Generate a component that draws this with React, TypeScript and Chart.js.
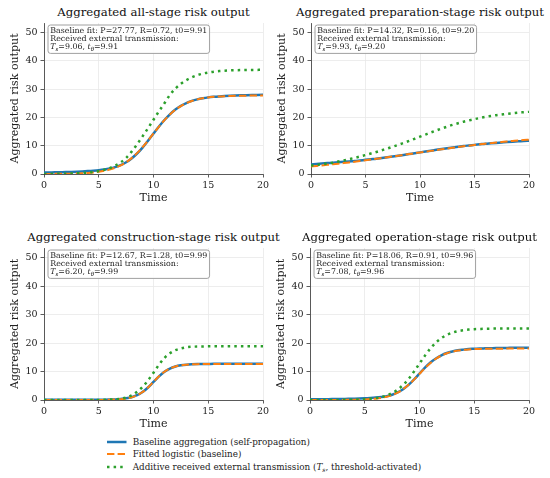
import { useEffect, useRef } from "react";
import { Chart, registerables } from "chart.js";

Chart.register(...registerables);

const FONT = '"DejaVu Serif", serif';

// time grid shared by all four panels
const times = [
  0, 0.5, 1, 1.5, 2, 2.5, 3, 3.5, 4, 4.5, 5, 5.5, 6, 6.5, 7, 7.5, 8, 8.5, 9, 9.5, 10,
  10.5, 11, 11.5, 12, 12.5, 13, 13.5, 14, 14.5, 15, 15.5, 16, 16.5, 17, 17.5, 18, 18.5, 19, 19.5, 20,
];
const xTicks = [0, 5, 10, 15, 20];
const yTicks = [0, 10, 20, 30, 40, 50];

// all-stage
const allBaseline = [
  0.5, 0.54, 0.58, 0.63, 0.68, 0.75, 0.83, 0.92, 1.03, 1.17, 1.35, 1.6, 1.95, 2.45, 3.15, 4.15, 5.5, 7.25, 9.35, 11.75, 14.3,
  16.8, 19.1, 21.1, 22.8, 24.1, 25.1, 25.85, 26.4, 26.8, 27.1, 27.3, 27.45, 27.57, 27.67, 27.75, 27.82, 27.88, 27.93, 27.97, 28.0,
];
const allFitted = [
  0.02, 0.03, 0.05, 0.07, 0.09, 0.13, 0.19, 0.27, 0.39, 0.55, 0.79, 1.12, 1.57, 2.2, 3.04, 4.16, 5.61, 7.39, 9.49, 11.85, 14.34,
  16.79, 19.07, 21.07, 22.73, 24.04, 25.06, 25.82, 26.38, 26.79, 27.08, 27.28, 27.43, 27.53, 27.6, 27.65, 27.69, 27.71, 27.73, 27.74, 27.75,
];
const allExternal = [
  0.03, 0.04, 0.06, 0.09, 0.12, 0.18, 0.25, 0.36, 0.52, 0.74, 1.05, 1.5, 2.1, 2.95, 4.1, 5.7, 7.9, 10.5, 13.3, 16.2, 19.2,
  22.2, 25.0, 28.0, 30.2, 31.9, 33.2, 34.2, 34.95, 35.5, 35.9, 36.2, 36.4, 36.55, 36.65, 36.7, 36.75, 36.78, 36.8, 36.82, 36.83,
];

// preparation-stage
const prepBaseline = [
  3.4, 3.55, 3.7, 3.85, 4.0, 4.15, 4.3, 4.45, 4.6, 4.8, 5.0, 5.2, 5.4, 5.65, 5.9, 6.17, 6.45, 6.75, 7.05, 7.35, 7.65,
  7.95, 8.25, 8.55, 8.85, 9.13, 9.4, 9.65, 9.9, 10.1, 10.3, 10.5, 10.7, 10.85, 11.0, 11.15, 11.3, 11.43, 11.55, 11.68, 11.8,
];
const prepFitted = [
  2.67, 2.85, 3.04, 3.24, 3.44, 3.65, 3.87, 4.1, 4.34, 4.59, 4.84, 5.1, 5.37, 5.64, 5.91, 6.19, 6.47, 6.76, 7.05, 7.33, 7.62,
  7.9, 8.18, 8.46, 8.74, 9.01, 9.27, 9.53, 9.78, 10.02, 10.26, 10.49, 10.71, 10.92, 11.13, 11.32, 11.51, 11.68, 11.85, 12.01, 12.16,
];
const prepExternal = [
  3.0, 3.2, 3.4, 3.7, 4.0, 4.4, 4.8, 5.25, 5.7, 6.2, 6.7, 7.25, 7.8, 8.4, 9.0, 9.65, 10.3, 11.0, 11.7, 12.45, 13.2,
  13.95, 14.7, 15.4, 16.1, 16.75, 17.4, 17.95, 18.5, 18.95, 19.4, 19.8, 20.2, 20.5, 20.8, 21.05, 21.3, 21.5, 21.7, 21.85, 22.0,
];

// construction-stage
const consBaseline = [
  0.05, 0.05, 0.05, 0.05, 0.05, 0.06, 0.06, 0.06, 0.07, 0.08, 0.09, 0.11, 0.15, 0.22, 0.35, 0.58, 0.98, 1.68, 2.8, 4.4, 6.35,
  8.3, 9.92, 11.05, 11.76, 12.18, 12.42, 12.55, 12.62, 12.66, 12.68, 12.7, 12.71, 12.71, 12.72, 12.72, 12.72, 12.72, 12.72, 12.72, 12.72,
];
const consFitted = [
  0, 0, 0, 0, 0, 0, 0, 0, 0.01, 0.01, 0.02, 0.04, 0.08, 0.14, 0.27, 0.5, 0.92, 1.64, 2.79, 4.41, 6.38,
  8.33, 9.94, 11.07, 11.77, 12.18, 12.41, 12.53, 12.6, 12.63, 12.65, 12.66, 12.66, 12.67, 12.67, 12.67, 12.67, 12.67, 12.67, 12.67, 12.67,
];
const consExternal = [
  0, 0, 0, 0, 0, 0, 0.01, 0.01, 0.01, 0.02, 0.04, 0.07, 0.13, 0.25, 0.45, 0.85, 1.6, 2.9, 4.6, 6.9, 9.6,
  12.4, 14.8, 16.4, 17.5, 18.1, 18.5, 18.7, 18.78, 18.82, 18.85, 18.86, 18.87, 18.87, 18.87, 18.87, 18.87, 18.87, 18.87, 18.87, 18.87,
];

// operation-stage
const operBaseline = [
  0.25, 0.26, 0.28, 0.3, 0.32, 0.35, 0.38, 0.41, 0.45, 0.5, 0.58, 0.7, 0.85, 1.05, 1.35, 1.85, 2.65, 3.8, 5.3, 7.2, 9.3,
  11.4, 13.2, 14.6, 15.7, 16.5, 17.05, 17.45, 17.7, 17.9, 18.0, 18.1, 18.15, 18.2, 18.25, 18.28, 18.3, 18.33, 18.35, 18.37, 18.4,
];
const operFitted = [
  0, 0, 0.01, 0.01, 0.01, 0.02, 0.03, 0.05, 0.08, 0.13, 0.2, 0.31, 0.48, 0.74, 1.14, 1.74, 2.6, 3.78, 5.32, 7.17, 9.2,
  11.2, 13.01, 14.49, 15.62, 16.43, 16.99, 17.37, 17.61, 17.77, 17.88, 17.94, 17.99, 18.01, 18.03, 18.04, 18.05, 18.05, 18.06, 18.06, 18.06,
];
const operExternal = [
  0, 0.01, 0.01, 0.01, 0.02, 0.03, 0.05, 0.07, 0.11, 0.17, 0.27, 0.43, 0.67, 1.03, 1.59, 2.42, 3.62, 5.26, 7.4, 9.98, 12.8,
  15.59, 18.11, 20.17, 21.74, 22.87, 23.65, 24.18, 24.51, 24.74, 24.89, 24.97, 25.04, 25.07, 25.09, 25.11, 25.12, 25.13, 25.13, 25.14, 25.14,
];

const legendLabels = [
  "Baseline aggregation (self-propagation)",
  "Fitted logistic (baseline)",
  "Additive received external transmission",
];

const PAD_T = 8;
const PAD_R = 10;
const Y_W = 44;
const X_H = 34;

type Fit = { p: string; r: string; t0: string; ts: string; tth: string };

// annotation box with the fit parameters, drawn in the top-left corner of the plot
const fitBox = {
  id: "fitBox",
  afterDatasetsDraw(chart: any, _args: any, opts: any) {
    const { ctx, chartArea } = chart;
    const fs = 7.9;
    const sub = fs * 0.7;
    const lineH = 8;
    const pad = 2.2;
    const reg = `${fs}px ${FONT}`;
    const ita = `italic ${fs}px ${FONT}`;
    const subIta = `italic ${sub}px ${FONT}`;
    const line1 = `Baseline fit: P=${opts.p}, R=${opts.r}, t0=${opts.t0}`;
    const line2 = "Received external transmission:";
    const segs = [
      { t: "T", f: ita, dy: 0 },
      { t: "s", f: subIta, dy: 2 },
      { t: `=${opts.ts}, `, f: reg, dy: 0 },
      { t: "t", f: ita, dy: 0 },
      { t: "θ", f: subIta, dy: 2 },
      { t: `=${opts.tth}`, f: reg, dy: 0 },
    ];
    ctx.save();
    ctx.font = reg;
    let w = Math.max(ctx.measureText(line1).width, ctx.measureText(line2).width);
    let w3 = 0;
    for (const s of segs) {
      ctx.font = s.f;
      w3 += ctx.measureText(s.t).width;
    }
    w = Math.max(w, w3);
    const x0 = chartArea.left + 4;
    const y0 = chartArea.top + 2;
    const bw = w + pad * 2;
    const bh = lineH * 3 + pad * 2;
    ctx.beginPath();
    if (ctx.roundRect) ctx.roundRect(x0, y0, bw, bh, 2.5);
    else ctx.rect(x0, y0, bw, bh);
    ctx.fillStyle = "rgba(255,255,255,0.85)";
    ctx.fill();
    ctx.strokeStyle = "#a0a0a0";
    ctx.lineWidth = 1;
    ctx.stroke();
    ctx.fillStyle = "#222";
    ctx.textBaseline = "middle";
    ctx.textAlign = "left";
    ctx.font = reg;
    const tx = x0 + pad;
    ctx.fillText(line1, tx, y0 + pad + lineH * 0.5);
    ctx.fillText(line2, tx, y0 + pad + lineH * 1.5);
    let cx = tx;
    const ly = y0 + pad + lineH * 2.5;
    for (const s of segs) {
      ctx.font = s.f;
      ctx.fillText(s.t, cx, ly + s.dy);
      cx += ctx.measureText(s.t).width;
    }
    ctx.restore();
  },
};

type Box = { l: number; t: number; r: number; b: number };

function Panel({
  box,
  title,
  baseline,
  fitted,
  external,
  fit,
}: {
  box: Box;
  title: string;
  baseline: number[];
  fitted: number[];
  external: number[];
  fit: Fit;
}) {
  const chartRef = useRef<HTMLCanvasElement | null>(null);
  const w = box.r - box.l + Y_W + PAD_R;
  const h = box.b - box.t + PAD_T + X_H;

  useEffect(() => {
    if (!chartRef.current) return;
    const pts = (ys: number[]) => times.map((x, i) => ({ x, y: ys[i] }));
    const axisFont = { family: FONT, size: 11 };
    const tickFont = { family: FONT, size: 9.5 };
    const grid = { color: "#e8e8e8", lineWidth: 0.8, tickColor: "#333", tickLength: 3.5, tickWidth: 0.8 };
    const border = { color: "#333", width: 0.8 };

    const chart = new Chart(chartRef.current, {
      type: "line",
      data: {
        datasets: [
          {
            label: legendLabels[0],
            data: pts(baseline),
            borderColor: "#1f77b4",
            borderWidth: 2.5,
            pointRadius: 0,
            cubicInterpolationMode: "monotone",
            order: 3,
          },
          {
            label: legendLabels[1],
            data: pts(fitted),
            borderColor: "#ff7f0e",
            borderWidth: 2,
            borderDash: [7.4, 3.2],
            pointRadius: 0,
            cubicInterpolationMode: "monotone",
            order: 2,
          },
          {
            label: legendLabels[2],
            data: pts(external),
            borderColor: "#2ca02c",
            borderWidth: 2.5,
            borderDash: [2.5, 4.1],
            pointRadius: 0,
            cubicInterpolationMode: "monotone",
            order: 1,
          },
        ],
      },
      options: {
        animation: false,
        responsive: true,
        maintainAspectRatio: false,
        events: [],
        layout: { padding: { top: PAD_T, right: PAD_R, left: 0, bottom: 0 } },
        plugins: {
          legend: { display: false },
          tooltip: { enabled: false },
          fitBox: fit,
        } as any,
        scales: {
          x: {
            type: "linear",
            min: 0,
            max: 20,
            afterBuildTicks: (s: any) => {
              s.ticks = xTicks.map((v) => ({ value: v }));
            },
            afterFit: (s: any) => {
              s.height = X_H;
              s.paddingLeft = 0;
              s.paddingRight = 0;
            },
            grid,
            border,
            ticks: { font: tickFont, color: "#222", padding: 2, maxRotation: 0, autoSkip: false },
            title: { display: true, text: "Time", font: axisFont, color: "#222", padding: { top: 0, bottom: 3 } },
          },
          y: {
            type: "linear",
            min: 0,
            max: 53.4,
            afterBuildTicks: (s: any) => {
              s.ticks = yTicks.map((v) => ({ value: v }));
            },
            afterFit: (s: any) => {
              s.width = Y_W;
              s.paddingTop = 0;
              s.paddingBottom = 0;
            },
            grid,
            border,
            ticks: { font: tickFont, color: "#222", padding: 3, autoSkip: false },
            title: {
              display: true,
              text: "Aggregated risk output",
              font: axisFont,
              color: "#222",
              padding: { top: 8.5, bottom: 0 },
            },
          },
        },
      },
      plugins: [fitBox as any],
    });

    return () => {
      chart.destroy();
    };
  }, []);

  return (
    <>
      <div
        style={{
          position: "absolute",
          left: (box.l + box.r) / 2,
          top: box.t - 10,
          transform: "translate(-50%, -50%)",
          whiteSpace: "nowrap",
          fontFamily: FONT,
          fontSize: 11.7,
          lineHeight: 1,
          color: "#111",
        }}
      >
        {title}
      </div>
      <div style={{ position: "absolute", left: box.l - Y_W, top: box.t - PAD_T, width: w, height: h }}>
        <canvas ref={chartRef}></canvas>
      </div>
    </>
  );
}

const LegendSample = ({ color, dash, width }: { color: string; dash?: string; width: number }) => (
  <svg width="20" height="6" style={{ position: "absolute", left: 106.5, top: -3 }}>
    <line x1="0" y1="3" x2="19.5" y2="3" stroke={color} strokeWidth={width} strokeDasharray={dash} />
  </svg>
);

export default function App() {
  const rowStyle = (y: number) =>
    ({
      position: "absolute",
      left: 0,
      top: y,
      width: 550,
      height: 0,
    }) as const;
  const textStyle = {
    position: "absolute" as const,
    left: 132.7,
    top: 0,
    transform: "translateY(-50%)",
    whiteSpace: "nowrap" as const,
    fontFamily: FONT,
    fontSize: 8.8,
    lineHeight: 1,
    color: "#222",
  };

  return (
    <div style={{ position: "absolute", left: 0, top: 0, width: 550, height: 478, background: "#fff", overflow: "hidden" }}>
      <Panel
        box={{ l: 44, t: 23, r: 263, b: 174 }}
        title="Aggregated all-stage risk output"
        baseline={allBaseline}
        fitted={allFitted}
        external={allExternal}
        fit={{ p: "27.77", r: "0.72", t0: "9.91", ts: "9.06", tth: "9.91" }}
      />
      <Panel
        box={{ l: 311, t: 23, r: 529, b: 174 }}
        title="Aggregated preparation-stage risk output"
        baseline={prepBaseline}
        fitted={prepFitted}
        external={prepExternal}
        fit={{ p: "14.32", r: "0.16", t0: "9.20", ts: "9.93", tth: "9.20" }}
      />
      <Panel
        box={{ l: 44, t: 248, r: 263, b: 400 }}
        title="Aggregated construction-stage risk output"
        baseline={consBaseline}
        fitted={consFitted}
        external={consExternal}
        fit={{ p: "12.67", r: "1.28", t0: "9.99", ts: "6.20", tth: "9.99" }}
      />
      <Panel
        box={{ l: 310, t: 248, r: 529, b: 400 }}
        title="Aggregated operation-stage risk output"
        baseline={operBaseline}
        fitted={operFitted}
        external={operExternal}
        fit={{ p: "18.06", r: "0.91", t0: "9.96", ts: "7.08", tth: "9.96" }}
      />

      {/* shared legend */}
      <div style={rowStyle(441.5)}>
        <LegendSample color="#1f77b4" width={2.5} />
        <div style={textStyle}>{legendLabels[0]}</div>
      </div>
      <div style={rowStyle(454)}>
        <LegendSample color="#ff7f0e" width={2} dash="7.4 3.2" />
        <div style={textStyle}>{legendLabels[1]}</div>
      </div>
      <div style={rowStyle(466.7)}>
        <LegendSample color="#2ca02c" width={2.5} dash="2.5 4.1" />
        <div style={textStyle}>
          {legendLabels[2]} (<i>T</i>
          <span style={{ fontStyle: "italic", fontSize: "0.7em", position: "relative", top: "0.3em" }}>s</span>,
          threshold-activated)
        </div>
      </div>
    </div>
  );
}
